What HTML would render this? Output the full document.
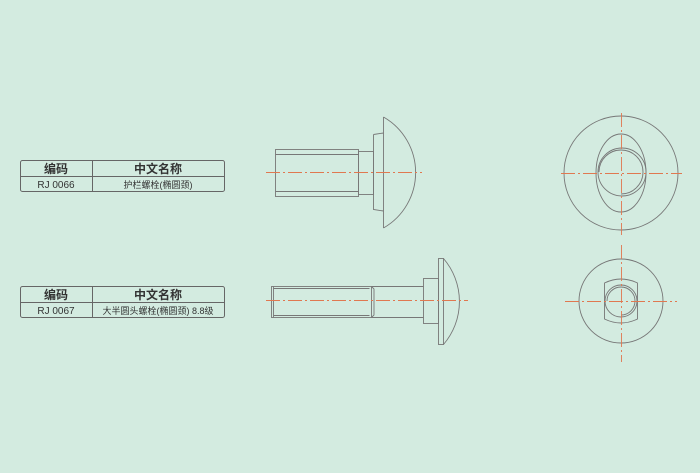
<!DOCTYPE html>
<html><head><meta charset="utf-8"><style>
body{margin:0;background:#d3ebe0;}
svg{display:block}
text{font-family:"Liberation Sans","Noto Sans CJK SC",sans-serif;fill:#333}
</style></head><body>
<svg width="700" height="473" viewBox="0 0 700 473" xmlns="http://www.w3.org/2000/svg">
<rect width="700" height="473" fill="#d3ebe0"/>
<g fill="none" stroke="#666" stroke-width="1">
<rect x="20.5" y="160.5" width="204" height="31" rx="2"/>
<line x1="20.5" y1="176.5" x2="224.5" y2="176.5"/>
<line x1="92.5" y1="160.5" x2="92.5" y2="191.5"/>
<rect x="20.5" y="286.5" width="204" height="31" rx="2"/>
<line x1="20.5" y1="302.5" x2="224.5" y2="302.5"/>
<line x1="92.5" y1="286.5" x2="92.5" y2="317.5"/>
</g>
<g text-anchor="middle">
<text x="56" y="173" font-size="12" font-weight="bold" font-family="Noto Serif CJK SC,serif">编码</text>
<text x="158" y="173" font-size="12" font-weight="bold" font-family="Noto Serif CJK SC,serif">中文名称</text>
<text x="56" y="188" font-size="10">RJ 0066</text>
<text x="158" y="188" font-size="9">护栏螺栓(椭圆颈)</text>
<text x="56" y="299" font-size="12" font-weight="bold" font-family="Noto Serif CJK SC,serif">编码</text>
<text x="158" y="299" font-size="12" font-weight="bold" font-family="Noto Serif CJK SC,serif">中文名称</text>
<text x="56" y="314" font-size="10">RJ 0067</text>
<text x="158" y="314" font-size="9">大半圆头螺栓(椭圆颈) 8.8级</text>
</g>
<g fill="none" stroke="#777" stroke-width="0.9">
<rect x="275.5" y="149.5" width="83" height="47"/>
<line x1="275.5" y1="154.5" x2="358.5" y2="154.5"/>
<line x1="275.5" y1="191.5" x2="358.5" y2="191.5"/>
<rect x="358.5" y="151.5" width="15" height="43"/>
<path d="M373.5 134.5 L383.5 133 M373.5 134.5 V209.5 L383.5 211"/>
<path d="M383.5 117 V228"/>
<path d="M383.5 117 A64 64 0 0 1 383.5 228"/>
<rect x="271.5" y="286.5" width="100" height="31"/>
<line x1="273.5" y1="288.5" x2="369.5" y2="288.5"/>
<line x1="273.5" y1="315.5" x2="369.5" y2="315.5"/>
<line x1="273.5" y1="286.5" x2="273.5" y2="317.5"/>
<path d="M371.5 286.5 L374 289 V315 L371.5 317.5"/>
<line x1="371.5" y1="286.5" x2="423.5" y2="286.5"/>
<line x1="371.5" y1="317.5" x2="423.5" y2="317.5"/>
<rect x="423.5" y="278.5" width="15" height="45"/>
<rect x="438.5" y="258.5" width="5" height="86"/>
<path d="M443.5 258.5 A66 66 0 0 1 443.5 344.5"/>
<circle cx="621" cy="173" r="57"/>
<ellipse cx="621" cy="173" rx="25" ry="39"/>
<circle cx="622" cy="172" r="24"/>
<path d="M599 172 A22 22 0 1 1 621 194"/>
<circle cx="621" cy="301" r="42"/>
<path d="M604.5 283 Q621 275 637.5 283 V319 Q621 327 604.5 319 Z"/>
<circle cx="621" cy="301" r="16"/>
<path d="M607 301 A14 14 0 1 1 621 315"/>
</g>
<g stroke="#e07850" stroke-width="0.9" stroke-dasharray="14 3 2 3" fill="none">
<line x1="266" y1="172.5" x2="422" y2="172.5"/>
<line x1="266" y1="300.5" x2="468" y2="300.5"/>
<line x1="561" y1="173.5" x2="682" y2="173.5"/>
<line x1="621.5" y1="113" x2="621.5" y2="235"/>
<line x1="565" y1="301.5" x2="677" y2="301.5"/>
<line x1="621.5" y1="245" x2="621.5" y2="362"/>
</g>
</svg>
</body></html>
